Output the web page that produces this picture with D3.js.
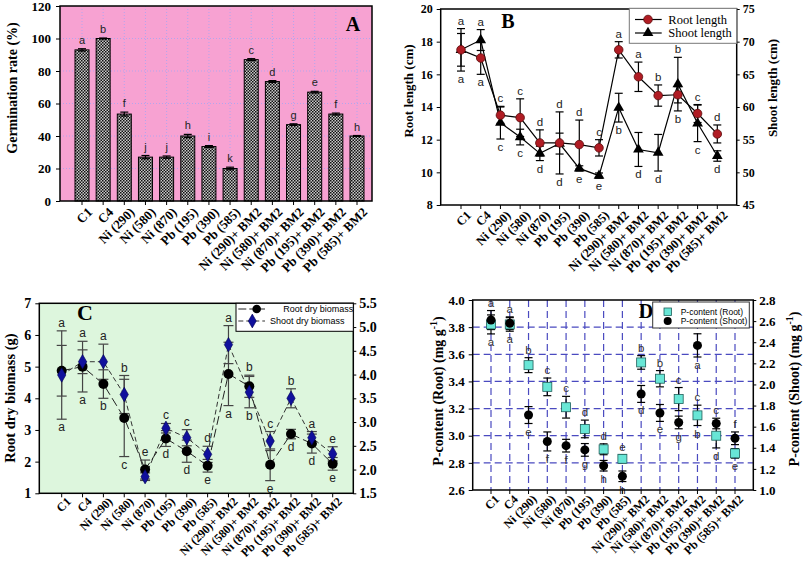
<!DOCTYPE html>
<html><head><meta charset="utf-8">
<script src="https://cdn.jsdelivr.net/npm/d3@7"></script>
<style>body{margin:0;background:#fff} svg{display:block}</style>
</head><body><svg id="c" width="803" height="562"></svg>
<script>
// ---------- DATA ----------
const categories = ["C1","C4","Ni (290)","Ni (580)","Ni (870)","Pb (195)","Pb (390)","Pb (585)",
  "Ni (290)+ BM2","Ni (580)+ BM2","Ni (870)+ BM2","Pb (195)+ BM2","Pb (390)+ BM2","Pb (585)+ BM2"];

// Panel A: germination rate (%)
const germination = [93,100,53.5,27,27,40,33.5,20,87,73.5,47,67,53.5,40];
const germinationErr = [0.7,0.3,1.2,1.0,0.7,1.0,0.6,0.8,0.6,0.6,0.5,0.5,0.6,0.3];
const germinationLetters = ["a","b","f","j","j","h","i","k","c","d","g","e","f","h"];
const ticksA = [0,20,40,60,80,100,120];

// Panel B: root / shoot length (cm)
const rootLength = [17.5,17.0,13.5,13.35,11.8,11.8,11.7,11.5,17.5,15.85,14.7,14.75,13.6,12.35];
const rootLengthErr = [1.3,1.0,0.5,1.15,0.8,1.9,1.5,0.5,0.5,0.9,0.65,0.5,0.55,0.55];
const shootLength = [68.75,70.25,57.6,55.4,52.9,54.4,50.6,49.5,59.9,53.5,53.0,63.5,57.5,52.5];
const shootLengthErr = [2.5,1.6,2.5,1.2,1.1,1.6,0.4,0.4,2.2,2.6,2.8,4.1,2.8,0.8];
const rootLengthLetters = ["a","a","c","c","d","d","d","c","a","a","b","b","c","d"];
const shootLengthLetters = ["a","a","c","c","d","d","e","e","b","d","d","b","c","d"];
const ticksBLeft = [8,10,12,14,16,18,20];
const ticksBRight = [45,50,55,60,65,70,75];

// Panel C: dry biomass (g)
const rootBiomass = [4.87,5.0,4.45,3.38,1.75,2.73,2.33,1.87,4.77,4.38,1.9,2.87,2.57,1.93];
const rootBiomassErr = [0.8,0.8,0.45,1.22,0.3,0.25,0.35,0.2,1.0,0.35,0.5,0.15,0.3,0.2];
const shootBiomass = [3.99,4.27,4.27,3.58,1.85,2.87,2.67,2.32,4.63,3.63,2.6,3.5,2.67,2.33];
const shootBiomassErr = [0.93,0.25,0.37,0.4,0.08,0.1,0.17,0.17,0.4,0.33,0.2,0.2,0.13,0.15];
const shootBiomassLetters = ["a","a","a","b","e","c","c","d","a","b","c","b","a","e"];
const rootBiomassLetters = ["a","a","b","c","","d","d","e","a","b","e","d","d","e"];
const ticksCLeft = [1,2,3,4,5,6,7];
const ticksCRight = [1.5,2.0,2.5,3.0,3.5,4.0,4.5,5.0,5.5];

// Panel D: P-content (mg g-1)
const pRoot = [3.82,3.82,3.52,3.36,3.21,3.05,2.90,2.83,3.54,3.42,3.27,3.15,3.00,2.87];
const pRootErr = [0.07,0.05,0.055,0.065,0.08,0.065,0.04,0.03,0.05,0.06,0.085,0.075,0.09,0.035];
const pShoot = [2.61,2.58,1.71,1.46,1.42,1.38,1.23,1.13,1.91,1.73,1.64,2.37,1.63,1.49];
const pShootErr = [0.09,0.06,0.08,0.09,0.06,0.06,0.05,0.05,0.08,0.08,0.06,0.11,0.05,0.06];
const pRootLetters = ["a","a","b","c","c","d","d","e","b","b","c","c","c","f"];
const pShootLetters = ["a","a","e","f","f","g","h","h","d","e","g","a","d","e"];
const pRootLowerLetters = ["","","","","","","","","","","","b","",""];
const ticksDLeft = [2.6,2.8,3.0,3.2,3.4,3.6,3.8,4.0];
const ticksDRight = [1.0,1.2,1.4,1.6,1.8,2.0,2.2,2.4,2.6,2.8];

// ---------- DRAWING ----------
const svg = d3.select("#c");
const SERIF = "'Liberation Serif','Times New Roman',serif";
const SANS = "'Liberation Sans',Arial,sans-serif";
svg.append("rect").attr("width",803).attr("height",562).attr("fill","#fff");

function styleAxis(sel, size){
  sel.select("path.domain").remove();
  sel.selectAll("line").attr("stroke","#000").attr("stroke-width",1);
  sel.selectAll("text").attr("font-family",SERIF).attr("font-weight","bold")
    .attr("font-size",size).attr("fill","#000");
}
function catLabels(x, yb, size, dx, dy){
  svg.append("g").selectAll("text").data(categories).join("text")
    .attr("transform", d=>`translate(${x(d)+dx},${yb+dy}) rotate(-45)`)
    .attr("text-anchor","end").attr("font-family",SERIF).attr("font-weight","bold")
    .attr("font-size",size).attr("fill","#000").text(d=>d);
}
function bottomTicks(x, yb){
  svg.append("g").selectAll("line").data(categories).join("line")
    .attr("x1",d=>x(d)).attr("x2",d=>x(d)).attr("y1",yb).attr("y2",yb+4).attr("stroke","#000");
}
function errBars(x, y, vals, errs, capW, color, sw){
  const G = svg.append("g").attr("stroke",color).attr("stroke-width",sw);
  const d = vals.map((v,i)=>({c:categories[i], t:y(v+errs[i]), b:y(v-errs[i])}));
  G.selectAll(".v").data(d).join("line").attr("x1",e=>x(e.c)).attr("x2",e=>x(e.c)).attr("y1",e=>e.t).attr("y2",e=>e.b);
  G.selectAll(".t").data(d).join("line").attr("x1",e=>x(e.c)-capW/2).attr("x2",e=>x(e.c)+capW/2).attr("y1",e=>e.t).attr("y2",e=>e.t);
  G.selectAll(".b").data(d).join("line").attr("x1",e=>x(e.c)-capW/2).attr("x2",e=>x(e.c)+capW/2).attr("y1",e=>e.b).attr("y2",e=>e.b);
}
function letters(x, ys, arr, size, color){
  svg.append("g").selectAll("text").data(arr).join("text")
    .attr("x",(d,i)=>x(categories[i])).attr("y",(d,i)=>ys[i])
    .attr("text-anchor","middle").attr("font-family",SANS).attr("font-size",size)
    .attr("fill",color||"#222").text(d=>d);
}
function yTitle(x, y, rot, size, parts){
  const t = svg.append("text").attr("transform",`translate(${x},${y}) rotate(${rot})`)
    .attr("text-anchor","middle").attr("font-family",SERIF).attr("font-weight","bold")
    .attr("font-size",size).attr("fill","#000");
  parts.forEach(p=>{ const s=t.append("tspan").text(p.t); if(p.sup){s.attr("font-size",size*0.7).attr("dy",-size*0.4);} if(p.after){s.attr("dy",size*0.4);} });
  return t;
}
function panelLabel(x,y,txt,size){
  svg.append("text").attr("x",x).attr("y",y).attr("text-anchor","middle").attr("font-family",SERIF)
    .attr("font-weight","bold").attr("font-size",size).text(txt);
}

// ===== Panel A =====
{
  const x = d3.scalePoint(categories,[82,357]);
  const y = d3.scaleLinear([0,120],[201,6]);
  const X0=60, X1=372;
  svg.append("rect").attr("x",X0).attr("y",y(120)).attr("width",X1-X0).attr("height",y(0)-y(120)).attr("fill","#f7a2d2");
  const grid = svg.append("g").attr("stroke","#b3a6ee").attr("stroke-dasharray","1,2");
  grid.selectAll(".h").data(ticksA.slice(1,-1)).join("line").attr("x1",X0).attr("x2",X1).attr("y1",d=>y(d)).attr("y2",d=>y(d));
  grid.selectAll(".v").data(categories).join("line").attr("x1",d=>x(d)).attr("x2",d=>x(d)).attr("y1",y(120)).attr("y2",y(0));
  const defs = svg.append("defs");
  const pat = defs.append("pattern").attr("id","chk").attr("patternUnits","userSpaceOnUse").attr("width",3).attr("height",3);
  pat.append("rect").attr("width",3).attr("height",3).attr("fill","#c8c8c8");
  pat.append("rect").attr("width",1.5).attr("height",1.5).attr("fill","#111");
  pat.append("rect").attr("x",1.5).attr("y",1.5).attr("width",1.5).attr("height",1.5).attr("fill","#111");
  svg.append("g").selectAll("rect").data(germination).join("rect")
    .attr("x",(d,i)=>x(categories[i])-7).attr("width",14)
    .attr("y",d=>y(d)).attr("height",d=>y(0)-y(d))
    .attr("fill","url(#chk)").attr("stroke","#000").attr("stroke-width",1);
  errBars(x,y,germination,germinationErr,8,"#000",1.2);
  svg.append("rect").attr("x",X0).attr("y",y(120)).attr("width",X1-X0).attr("height",y(0)-y(120)).attr("fill","none").attr("stroke","#000").attr("stroke-width",1.5);
  const ax = svg.append("g").attr("transform",`translate(${X0},0)`).call(d3.axisLeft(y).tickValues(ticksA).tickSize(4).tickPadding(5).tickFormat(d3.format("d")));
  styleAxis(ax,13);
  bottomTicks(x,y(0));
  catLabels(x,y(0),13,11,12);
  letters(x, germination.map((v,i)=>y(v+germinationErr[i])-5), germinationLetters, 11);
  yTitle(17, 88, -90, 14, [{t:"Germination rate (%)"}]);
  panelLabel(353, 31, "A", 20);
}

// ===== Panel B =====
{
  const x = d3.scalePoint(categories,[461,717.3]);
  const yL = d3.scaleLinear([8,20],[205,9]);
  const yR = d3.scaleLinear([45,75],[205,9]);
  const X0=440.7, X1=736.7;
  svg.append("rect").attr("x",X0).attr("y",9).attr("width",X1-X0).attr("height",196).attr("fill","#fff").attr("stroke","#000").attr("stroke-width",1.5);
  const lineR = d3.line().x((d,i)=>x(categories[i])).y(d=>yL(d));
  const lineS = d3.line().x((d,i)=>x(categories[i])).y(d=>yR(d));
  svg.append("path").attr("d",lineS(shootLength)).attr("fill","none").attr("stroke","#000").attr("stroke-width",1.2);
  svg.append("path").attr("d",lineR(rootLength)).attr("fill","none").attr("stroke","#000").attr("stroke-width",1.2);
  errBars(x,yR,shootLength,shootLengthErr,8,"#000",1.2);
  errBars(x,yL,rootLength,rootLengthErr,8,"#000",1.2);
  svg.append("g").selectAll("path").data(shootLength).join("path")
    .attr("d",d3.symbol(d3.symbolTriangle,50)).attr("transform",(d,i)=>`translate(${x(categories[i])},${yR(d)})`).attr("fill","#000");
  svg.append("g").selectAll("circle").data(rootLength).join("circle")
    .attr("cx",(d,i)=>x(categories[i])).attr("cy",d=>yL(d)).attr("r",4.3).attr("fill","#b01c24").attr("stroke","#5a0a0a").attr("stroke-width",0.8);
  const tops = rootLength.map((v,i)=>Math.min(yL(v+rootLengthErr[i]), yR(shootLength[i]+shootLengthErr[i])));
  const bots = rootLength.map((v,i)=>Math.max(yL(v-rootLengthErr[i]), yR(shootLength[i]-shootLengthErr[i])));
  letters(x, tops.map(t=>t-4), rootLengthLetters, 11.5);
  letters(x, bots.map(b=>b+12), shootLengthLetters, 11.5);
  const axL = svg.append("g").attr("transform",`translate(${X0},0)`).call(d3.axisLeft(yL).tickValues(ticksBLeft).tickSize(4).tickPadding(4));
  styleAxis(axL,12);
  const axR = svg.append("g").attr("transform",`translate(${X1},0)`).call(d3.axisRight(yR).tickValues(ticksBRight).tickSize(3).tickPadding(3));
  styleAxis(axR,12);
  bottomTicks(x,205);
  catLabels(x,205,12.5,11,11);
  yTitle(413, 91, -90, 13, [{t:"Root length (cm)"}]);
  yTitle(777, 88, -90, 13, [{t:"Shoot length (cm)"}]);
  panelLabel(508, 28, "B", 20);
  // legend
  svg.append("rect").attr("x",629.3).attr("y",8.3).attr("width",X1-629.3).attr("height",35).attr("fill","#fff").attr("stroke","#777").attr("stroke-width",1);
  const lg = [{n:"Root length",y:19.5},{n:"Shoot length",y:33}];
  lg.forEach((e,k)=>{
    svg.append("line").attr("x1",635).attr("x2",661.7).attr("y1",e.y).attr("y2",e.y).attr("stroke","#000").attr("stroke-width",1.2);
    if(k===0) svg.append("circle").attr("cx",648).attr("cy",e.y).attr("r",4.3).attr("fill","#b01c24").attr("stroke","#5a0a0a").attr("stroke-width",0.8);
    else svg.append("path").attr("d",d3.symbol(d3.symbolTriangle,50)).attr("transform",`translate(648,${e.y})`).attr("fill","#000");
    svg.append("text").attr("x",668.3).attr("y",e.y).attr("dy","0.33em").attr("font-family",SERIF).attr("font-size",12.5).text(e.n);
  });
}

// ===== Panel C =====
{
  const x = d3.scalePoint(categories,[61.7,332.7]);
  const yL = d3.scaleLinear([1,7],[493.3,303.3]);
  const yR = d3.scaleLinear([1.5,5.5],[493.3,303.3]);
  const X0=39.3, X1=353.3;
  svg.append("rect").attr("x",X0).attr("y",303.3).attr("width",X1-X0).attr("height",190).attr("fill","#ddf6dd");
  const lineR = d3.line().x((d,i)=>x(categories[i])).y(d=>yL(d));
  const lineS = d3.line().x((d,i)=>x(categories[i])).y(d=>yR(d));
  svg.append("path").attr("d",lineR(rootBiomass)).attr("fill","none").attr("stroke","#222").attr("stroke-width",1).attr("stroke-dasharray","9,4");
  svg.append("path").attr("d",lineS(shootBiomass)).attr("fill","none").attr("stroke","#333").attr("stroke-width",1).attr("stroke-dasharray","5,3");
  errBars(x,yR,shootBiomass,shootBiomassErr,10,"#444",1.2);
  errBars(x,yL,rootBiomass,rootBiomassErr,10,"#444",1.2);
  svg.append("g").selectAll("circle").data(rootBiomass).join("circle")
    .attr("cx",(d,i)=>x(categories[i])).attr("cy",d=>yL(d)).attr("r",5).attr("fill","#000");
  svg.append("g").selectAll("path").data(shootBiomass).join("path")
    .attr("d",d3.symbol(d3.symbolDiamond,60)).attr("transform",(d,i)=>`translate(${x(categories[i])},${yR(d)})`).attr("fill","#10109c").attr("stroke","#000050").attr("stroke-width",0.6);
  const tops = rootBiomass.map((v,i)=>Math.min(yL(v+rootBiomassErr[i]), yR(shootBiomass[i]+shootBiomassErr[i])));
  const bots = rootBiomass.map((v,i)=>Math.max(yL(v-rootBiomassErr[i]), yR(shootBiomass[i]-shootBiomassErr[i])));
  letters(x, tops.map(t=>t-4), shootBiomassLetters, 12, "#222");
  letters(x, bots.map(b=>b+12), rootBiomassLetters, 12, "#222");
  svg.append("rect").attr("x",X0).attr("y",303.3).attr("width",X1-X0).attr("height",190).attr("fill","none").attr("stroke","#000").attr("stroke-width",1.5);
  const axL = svg.append("g").attr("transform",`translate(${X0},0)`).call(d3.axisLeft(yL).tickValues(ticksCLeft).tickSize(4).tickPadding(4).tickFormat(d3.format("d")));
  styleAxis(axL,14);
  const axR = svg.append("g").attr("transform",`translate(${X1},0)`).call(d3.axisRight(yR).tickValues(ticksCRight).tickSize(3).tickPadding(3).tickFormat(d3.format(".1f")));
  styleAxis(axR,14);
  bottomTicks(x,493.3);
  catLabels(x,493.3,12,10,9);
  yTitle(15, 398, -90, 14.5, [{t:"Root dry biomass (g)"}]);
  svg.append("defs").append("clipPath").attr("id","clipC").append("rect").attr("x",0).attr("y",280).attr("width",400).attr("height",282);
  yTitle(401, 406, -90, 14.5, [{t:"Shoot dry biomass (g)"}]).attr("clip-path","url(#clipC)");
  panelLabel(85, 320, "C", 22);
  // legend
  svg.append("rect").attr("x",236).attr("y",303.3).attr("width",X1-236).attr("height",28).attr("fill","#fff").attr("stroke","#000").attr("stroke-width",1);
  svg.append("line").attr("x1",238.3).attr("x2",265).attr("y1",309).attr("y2",309).attr("stroke","#222").attr("stroke-dasharray","8,3");
  svg.append("circle").attr("cx",256.7).attr("cy",309).attr("r",4.3).attr("fill","#000");
  svg.append("text").attr("x",283.3).attr("y",309).attr("dy","0.35em").attr("font-family",SANS).attr("font-size",9).text("Root dry biomass");
  svg.append("line").attr("x1",238.3).attr("x2",265).attr("y1",321).attr("y2",321).attr("stroke","#333").attr("stroke-dasharray","5,3");
  svg.append("path").attr("d",d3.symbol(d3.symbolDiamond,55)).attr("transform","translate(252.3,321)").attr("fill","#10109c").attr("stroke","#000050").attr("stroke-width",0.6);
  svg.append("text").attr("x",270).attr("y",321).attr("dy","0.35em").attr("font-family",SANS).attr("font-size",9).text("Shoot dry biomass");
}

// ===== Panel D =====
{
  const x = d3.scalePoint(categories,[491,735]);
  const yL = d3.scaleLinear([2.6,4.0],[490,300]);
  const yR = d3.scaleLinear([1.0,2.8],[490,300]);
  const X0=472.7, X1=753.3;
  svg.append("rect").attr("x",X0).attr("y",300).attr("width",X1-X0).attr("height",190).attr("fill","#fff");
  const grid = svg.append("g").attr("stroke","#4a4ac0").attr("stroke-width",1.2).attr("stroke-dasharray","7,4");
  grid.selectAll(".h").data(ticksDLeft.slice(1,-1)).join("line").attr("x1",X0).attr("x2",X1).attr("y1",d=>yL(d)).attr("y2",d=>yL(d));
  grid.selectAll(".v").data(categories).join("line").attr("x1",d=>x(d)).attr("x2",d=>x(d)).attr("y1",300).attr("y2",490);
  errBars(x,yL,pRoot,pRootErr,8,"#000",1.2);
  errBars(x,yR,pShoot,pShootErr,8,"#000",1.2);
  svg.append("g").selectAll("rect").data(pRoot).join("rect")
    .attr("x",(d,i)=>x(categories[i])-4.5).attr("y",d=>yL(d)-4.5).attr("width",9).attr("height",9)
    .attr("fill","#68e6d6").attr("stroke","#1f5f5a").attr("stroke-width",0.8);
  svg.append("g").selectAll("circle").data(pShoot).join("circle")
    .attr("cx",(d,i)=>x(categories[i])).attr("cy",d=>yR(d)).attr("r",4.5).attr("fill","#000");
  const rT = pRoot.map((v,i)=>yL(v+pRootErr[i])), rB = pRoot.map((v,i)=>yL(v-pRootErr[i]));
  const sT = pShoot.map((v,i)=>yR(v+pShootErr[i])), sB = pShoot.map((v,i)=>yR(v-pShootErr[i]));
  const close = pRoot.map((v,i)=>Math.abs(yL(v)-yR(pShoot[i]))<16);
  letters(x, pRoot.map((v,i)=>(close[i]?Math.min(rT[i],sT[i]):rT[i])-4), pRootLetters, 11.5, "#333");
  letters(x, pShoot.map((v,i)=>(close[i]?Math.max(rB[i],sB[i]):sB[i])+12), pShootLetters, 11.5, "#333");
  letters(x, rB.map(b=>b+12), pRootLowerLetters, 11.5, "#333");
  svg.append("rect").attr("x",X0).attr("y",300).attr("width",X1-X0).attr("height",190).attr("fill","none").attr("stroke","#000").attr("stroke-width",1.5);
  const axL = svg.append("g").attr("transform",`translate(${X0},0)`).call(d3.axisLeft(yL).tickValues(ticksDLeft).tickSize(4).tickPadding(4).tickFormat(d3.format(".1f")));
  styleAxis(axL,13);
  const axR = svg.append("g").attr("transform",`translate(${X1},0)`).call(d3.axisRight(yR).tickValues(ticksDRight).tickSize(3).tickPadding(3).tickFormat(d3.format(".1f")));
  styleAxis(axR,13);
  bottomTicks(x,490);
  catLabels(x,490,12,9,10);
  yTitle(443, 391, -90, 14, [{t:"P-content (Root) (mg g"},{t:"-1",sup:true},{t:")",after:true}]);
  yTitle(799, 389, -90, 14, [{t:"P-content (Shoot) (mg g"},{t:"-1",sup:true},{t:")",after:true}]);
  svg.append("defs").append("clipPath").attr("id","clipD").append("rect").attr("x",400).attr("y",280).attr("width",20).attr("height",282);
  svg.append("text").attr("transform","translate(409,350) rotate(-90)").attr("text-anchor","middle")
    .attr("font-family",SERIF).attr("font-weight","bold").attr("font-size",9).attr("fill","#555")
    .attr("clip-path","url(#clipD)").text("Shoot dry biomass (g)");
  panelLabel(646, 318, "D", 20);
  // legend
  svg.append("rect").attr("x",652.7).attr("y",302).attr("width",96.6).attr("height",26).attr("fill","#fff").attr("stroke","#333").attr("stroke-width",1);
  svg.append("rect").attr("x",664).attr("y",308).attr("width",7.5).attr("height",7.5).attr("fill","#68e6d6").attr("stroke","#1f5f5a").attr("stroke-width",0.8);
  svg.append("text").attr("x",680.7).attr("y",311.7).attr("dy","0.35em").attr("font-family",SANS).attr("font-size",8.5).text("P-content (Root)");
  svg.append("circle").attr("cx",667.7).attr("cy",321).attr("r",4).attr("fill","#000");
  svg.append("text").attr("x",680.7).attr("y",321).attr("dy","0.35em").attr("font-family",SANS).attr("font-size",8.5).text("P-content (Shoot)");
}
</script></body></html>
